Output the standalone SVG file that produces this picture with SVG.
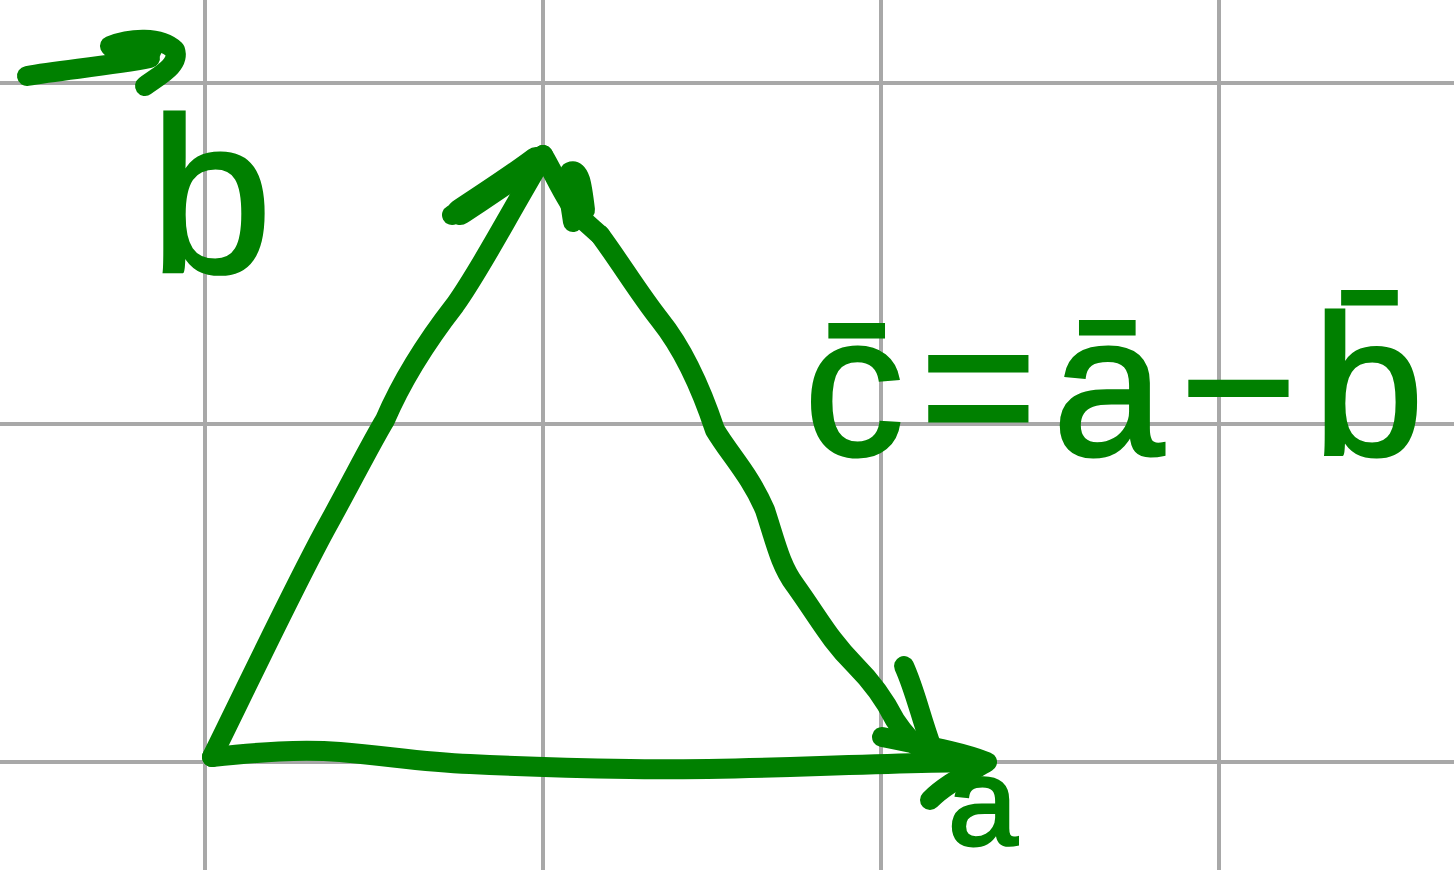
<svg xmlns="http://www.w3.org/2000/svg" width="1454" height="870" viewBox="0 0 1454 870">
<style>
.grid{stroke:#a8a8a8;stroke-width:4;fill:none}
.ink{stroke:#008000;stroke-width:20;fill:none;stroke-linecap:round;stroke-linejoin:round}
.lbl{fill:#008000;font-family:"Liberation Sans","DejaVu Sans",sans-serif;stroke:#008000;stroke-width:3}
</style>
<rect width="1454" height="870" fill="#ffffff"/>
<g id="grid" class="grid">
<line x1="205" y1="0" x2="205" y2="870"/>
<line x1="543" y1="0" x2="543" y2="870"/>
<line x1="881" y1="0" x2="881" y2="870"/>
<line x1="1219" y1="0" x2="1219" y2="870"/>
<line x1="0" y1="83" x2="1454" y2="83"/>
<line x1="0" y1="424" x2="1454" y2="424"/>
<line x1="0" y1="762" x2="1454" y2="762"/>
</g>
<g id="connectors" class="ink">
<path d="M212,757 C250,680 290,595 325,530 C350,485 370,445 385,420 C400,385 420,350 455,305 C480,270 500,230 543,157"/>
<path d="M452,215 C490,195 520,172 543,155"/>
<path d="M460,212 C490,192 515,176 536,160" stroke-width="26"/>
<path d="M543,155 C555,175 565,200 578,215 C585,222 592,228 600,235"/>
<path d="M573,222 C570,200 565,180 570,172 C580,168 582,185 585,210"/>
<path d="M600,235 C620,262 640,295 660,320 C680,345 700,385 715,430 C730,455 750,475 765,510 C775,540 780,565 795,585 C820,620 830,640 855,665 C880,690 890,710 895,720 C905,735 915,745 920,748"/>
<path d="M904,666 C915,690 920,715 932,748"/>
<path d="M212,757 C260,752 300,749 340,752 C390,756 420,762 470,764 C530,767 570,768 630,769 C700,770 760,768 820,766 C880,764 940,762 985,762"/>
<path d="M882,737 C920,745 955,750 987,762 C965,775 945,785 930,800"/>
</g>
<g id="label-b">
<path class="ink" d="M27,76 C60,70 110,66 150,58"/>
<path class="ink" d="M110,46 C130,38 160,36 175,50 C180,65 160,75 145,86"/>
<path class="ink" d="M112,48 C130,44 145,45 152,50" stroke-width="26"/>
<text class="lbl" x="150" y="272" font-size="220">b</text>
</g>
<g id="label-a">
<text class="lbl" x="948" y="845" font-size="125">a</text>
</g>
<g id="label-equation">
<text class="lbl" x="804" y="455" font-size="200" letter-spacing="16">c̄=ā−b̄</text>
</g>
</svg>
